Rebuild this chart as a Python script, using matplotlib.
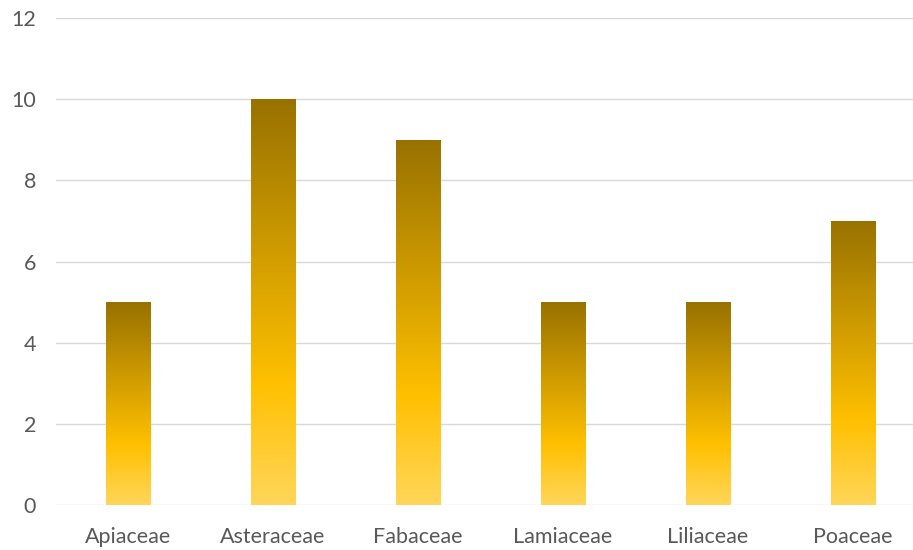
import numpy as np
import matplotlib
matplotlib.use("Agg")
import matplotlib.pyplot as plt
from matplotlib.colors import LinearSegmentedColormap

families = ["Apiaceae", "Asteraceae", "Fabaceae", "Lamiaceae", "Liliaceae", "Poaceae"]
counts = [5, 10, 9, 5, 5, 7]
y_ticks = [0, 2, 4, 6, 8, 10, 12]

fig = plt.figure(figsize=(9.13, 5.5), dpi=100)
ax = fig.add_axes([55.5 / 913, 45 / 550, 870 / 913, 487 / 550])

gold = LinearSegmentedColormap.from_list(
    "gold", [(0.0, "#FFD65A"), (0.3, "#FFC000"), (1.0, "#987200")]
)
grad = np.linspace(0, 1, 256).reshape(-1, 1)

x = np.arange(len(families))
bars = ax.bar(x, counts, width=0.31, color="none", edgecolor="none", zorder=2)
for rect in bars:
    x0, w, h = rect.get_x(), rect.get_width(), rect.get_height()
    im = ax.imshow(grad, cmap=gold, origin="lower", aspect="auto",
                   extent=(x0, x0 + w, 0, h), zorder=2, interpolation="bilinear")
    im.set_clip_path(rect)

ax.set_xlim(-0.5, len(families) - 0.5)
ax.set_ylim(0, 12)
ax.set_yticks(y_ticks)
ax.set_xticks(x)
ax.set_xticklabels(families)
ax.yaxis.grid(True, color="#D9D9D9", linewidth=1.0, zorder=0)
ax.set_axisbelow(True)
for s in ax.spines.values():
    s.set_visible(False)
ax.tick_params(axis="both", length=0, labelsize=15.5, labelcolor="#595959")
ax.tick_params(axis="y", pad=14)
ax.tick_params(axis="x", pad=16)
for lab in ax.get_xticklabels() + ax.get_yticklabels():
    lab.set_fontfamily("Lato")

fig.savefig("out.png", dpi=100)
